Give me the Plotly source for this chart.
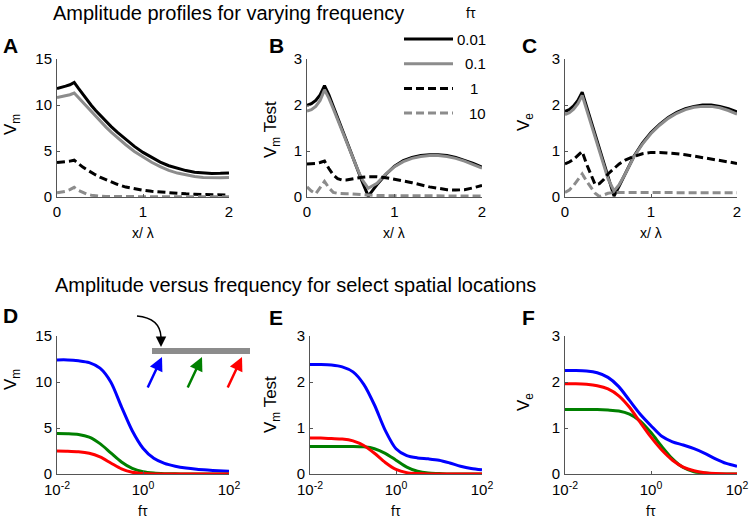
import plotly.graph_objects as go

W, H = 749, 519
FONT = "Liberation Sans, Arial, Helvetica, sans-serif"

# ---- top row: amplitude profiles along the cable (x / lambda) ----
x_lambda = [0, 0.05, 0.1, 0.15, 0.2, 0.25, 0.3, 0.35, 0.4, 0.45, 0.5, 0.57, 0.63, 0.7,
            0.8, 0.9, 1.0, 1.1, 1.2, 1.3, 1.4, 1.5, 1.6, 1.7, 1.8, 1.9, 2.0]

vm_f001 = [11.8, 11.9, 12.05, 12.2, 12.45, 11.8, 11.15, 10.55, 9.95, 9.4, 8.9, 8.2, 7.65, 7.05,
           6.25, 5.5, 4.85, 4.3, 3.8, 3.4, 3.1, 2.87, 2.7, 2.6, 2.56, 2.57, 2.62]
vm_f01 = [10.8, 10.88, 11.0, 11.12, 11.3, 10.8, 10.25, 9.7, 9.2, 8.7, 8.25, 7.6, 7.05, 6.47,
          5.68, 4.95, 4.32, 3.78, 3.3, 2.9, 2.6, 2.38, 2.22, 2.13, 2.08, 2.08, 2.12]
vm_f1 = [3.75, 3.78, 3.82, 3.9, 4.0, 3.6, 3.25, 2.95, 2.65, 2.4, 2.15, 1.85, 1.6, 1.38,
         1.08, 0.88, 0.74, 0.62, 0.53, 0.45, 0.39, 0.34, 0.3, 0.27, 0.24, 0.22, 0.21]
vm_f10 = [0.45, 0.5, 0.62, 0.8, 1.05, 0.72, 0.47, 0.3, 0.2, 0.13, 0.09, 0.06, 0.05, 0.04,
          0.04, 0.03, 0.03, 0.03, 0.03, 0.02, 0.02, 0.02, 0.02, 0.02, 0.02, 0.02, 0.02]

vmt_f001 = [1.99, 2.03, 2.1, 2.22, 2.42, 2.22, 1.97, 1.72, 1.48, 1.23, 0.98, 0.64, 0.34, 0.02,
            0.27, 0.49, 0.67, 0.79, 0.86, 0.9, 0.92, 0.92, 0.9, 0.86, 0.8, 0.73, 0.65]
vmt_f01 = [1.87, 1.9, 1.97, 2.1, 2.33, 2.15, 1.92, 1.68, 1.44, 1.2, 0.96, 0.64, 0.38, 0.19,
           0.3, 0.5, 0.66, 0.77, 0.84, 0.88, 0.9, 0.9, 0.88, 0.84, 0.78, 0.71, 0.63]
vmt_f1 = [0.72, 0.72, 0.73, 0.75, 0.78, 0.62, 0.48, 0.4, 0.37, 0.37, 0.39, 0.41, 0.43, 0.44,
          0.44, 0.42, 0.39, 0.35, 0.31, 0.26, 0.22, 0.19, 0.16, 0.15, 0.16, 0.2, 0.25]
vmt_f10 = [0.22, 0.13, 0.07, 0.2, 0.34, 0.2, 0.1, 0.08, 0.07, 0.07, 0.07, 0.06, 0.05, 0.04,
           0.03, 0.03, 0.03, 0.02, 0.02, 0.02, 0.02, 0.02, 0.02, 0.02, 0.02, 0.02, 0.02]

ve_f001 = [1.86, 1.9, 1.98, 2.1, 2.28, 1.97, 1.66, 1.35, 1.04, 0.73, 0.42, 0.02, 0.24, 0.5,
           0.88, 1.17, 1.4, 1.58, 1.73, 1.84, 1.92, 1.97, 2.0, 2.0, 1.97, 1.92, 1.85]
ve_f01 = [1.79, 1.83, 1.91, 2.03, 2.21, 1.9, 1.6, 1.29, 0.98, 0.68, 0.4, 0.13, 0.27, 0.5,
          0.87, 1.15, 1.38, 1.56, 1.71, 1.82, 1.9, 1.95, 1.97, 1.97, 1.94, 1.88, 1.8]
ve_f1 = [0.72, 0.76, 0.82, 0.9, 0.99, 0.72, 0.5, 0.27, 0.29, 0.38, 0.5, 0.62, 0.72, 0.8,
         0.88, 0.94, 0.97, 0.97, 0.96, 0.94, 0.92, 0.89, 0.86, 0.83, 0.8, 0.77, 0.73]
ve_f10 = [0.1, 0.15, 0.25, 0.38, 0.5, 0.35, 0.2, 0.08, 0.01, 0.04, 0.08, 0.1, 0.1, 0.1,
          0.1, 0.1, 0.1, 0.1, 0.1, 0.09, 0.09, 0.09, 0.09, 0.09, 0.09, 0.09, 0.09]

freq_labels = ["0.01", "0.1", "1", "10"]

# ---- bottom row: amplitude vs f*tau at three locations ----
ftau = [0.01, 0.0178, 0.0316, 0.0562, 0.1, 0.178, 0.316, 0.562, 1,
        1.78, 3.16, 5.62, 10, 17.8, 31.6, 56.2, 100]

vm_near = [12.4, 12.4, 12.3, 12.1, 11.5, 10.0, 7.3, 4.7, 2.8, 1.7, 1.15, 0.85, 0.65, 0.52, 0.43, 0.36, 0.3]
vm_mid = [4.4, 4.38, 4.3, 4.0, 3.3, 2.3, 1.3, 0.6, 0.25, 0.1, 0.04, 0.02, 0.01, 0.01, 0.0, 0.0, 0.0]
vm_far = [2.5, 2.48, 2.42, 2.25, 1.85, 1.2, 0.55, 0.18, 0.05, 0.01, 0, 0, 0, 0, 0, 0, 0]

vmt_near = [2.38, 2.38, 2.37, 2.33, 2.22, 1.95, 1.5, 0.95, 0.55, 0.4, 0.35, 0.33, 0.3, 0.24, 0.17, 0.12, 0.09]
vmt_mid = [0.6, 0.6, 0.6, 0.6, 0.6, 0.59, 0.55, 0.45, 0.3, 0.15, 0.06, 0.02, 0.01, 0, 0, 0, 0]
vmt_far = [0.78, 0.78, 0.77, 0.76, 0.72, 0.62, 0.45, 0.25, 0.1, 0.03, 0.01, 0, 0, 0, 0, 0, 0]

ve_near = [2.25, 2.25, 2.24, 2.2, 2.1, 1.9, 1.6, 1.3, 1.05, 0.82, 0.7, 0.63, 0.55, 0.45, 0.33, 0.23, 0.17]
ve_mid = [1.4, 1.4, 1.4, 1.4, 1.39, 1.37, 1.3, 1.15, 0.9, 0.6, 0.33, 0.14, 0.05, 0.02, 0, 0, 0]
ve_far = [1.96, 1.96, 1.95, 1.92, 1.85, 1.7, 1.45, 1.12, 0.8, 0.52, 0.3, 0.15, 0.07, 0.03, 0.01, 0, 0]

# styles
profile_styles = [("black", "solid"), ("#8c8c8c", "solid"), ("black", "8px,4px"), ("#8c8c8c", "8px,4px")]
site_colors = ["#0000ff", "#008000", "#ff0000"]
AXC = "#555555"


def px(x):
    return x / W


def py(y):
    return 1 - y / H


fig = go.Figure()

top_panels = [
    ([vm_f001, vm_f01, vm_f1, vm_f10], (57, 229), 15, 5),
    ([vmt_f001, vmt_f01, vmt_f1, vmt_f10], (307, 482), 3, 1),
    ([ve_f001, ve_f01, ve_f1, ve_f10], (565, 737), 3, 1),
]
bottom_panels = [
    ([vm_near, vm_mid, vm_far], (57, 229), 15, 5),
    ([vmt_near, vmt_mid, vmt_far], (310, 482), 3, 1),
    ([ve_near, ve_mid, ve_far], (565, 737), 3, 1),
]

axis_common = dict(
    showline=True, linecolor=AXC, linewidth=1, ticks="inside", ticklen=3, tickcolor=AXC,
    showgrid=False, zeroline=False, automargin=False,
    tickfont=dict(size=15, color="black", family=FONT),
)

layout_axes = {}
for i, (series, (x0, x1), ymax, ystep) in enumerate(top_panels):
    n = i + 1
    for s, (col, dash) in zip(series, profile_styles):
        fig.add_trace(go.Scatter(x=x_lambda, y=s, mode="lines", xaxis=f"x{n}", yaxis=f"y{n}",
                                 line=dict(color=col, width=3, dash=dash), showlegend=False))
    layout_axes[f"xaxis{n}"] = dict(axis_common, domain=[px(x0), px(x1)], range=[0, 2],
                                    tickvals=[0, 1, 2], anchor=f"y{n}", ticklabelstandoff=1)
    layout_axes[f"yaxis{n}"] = dict(axis_common, domain=[py(197), py(59)], range=[0, ymax],
                                    tickvals=list(range(0, ymax + 1, ystep)), anchor=f"x{n}",
                                    ticklabelstandoff=1)

for i, (series, (x0, x1), ymax, ystep) in enumerate(bottom_panels):
    n = i + 4
    for s, col in zip(series, site_colors):
        fig.add_trace(go.Scatter(x=ftau, y=s, mode="lines", xaxis=f"x{n}", yaxis=f"y{n}",
                                 line=dict(color=col, width=3, shape="spline", smoothing=0.8),
                                 showlegend=False))
    layout_axes[f"xaxis{n}"] = dict(axis_common, domain=[px(x0), px(x1)], type="log", range=[-2, 2],
                                    tickvals=[0.01, 1, 100],
                                    ticktext=["10<sup>-2</sup>", "10<sup>0</sup>", "10<sup>2</sup>"],
                                    anchor=f"y{n}", ticklabelstandoff=2)
    layout_axes[f"yaxis{n}"] = dict(axis_common, domain=[py(474), py(336)], range=[0, ymax],
                                    tickvals=list(range(0, ymax + 1, ystep)), anchor=f"x{n}",
                                    ticklabelstandoff=1)

annotations = []


def label(text, x, y, size=14, bold=False, angle=0, xanchor="center"):
    if bold:
        text = f"<b>{text}</b>"
    annotations.append(dict(text=text, x=px(x), y=py(y), xref="paper", yref="paper",
                            showarrow=False, textangle=angle, xanchor=xanchor, yanchor="middle",
                            font=dict(size=size, color="black", family=FONT)))


label("Amplitude profiles for varying frequency", 228, 13, size=20)
label("Amplitude versus frequency for select spatial locations", 295, 285, size=20)

for (x, y, t) in [(10, 45, "A"), (276, 45, "B"), (529, 45, "C"),
                  (10, 315, "D"), (276, 317, "E"), (528, 317, "F")]:
    label(t, x, y, size=21, bold=True)

for (x, y, t) in [(12, 125, "V<sub>m</sub>"), (272, 130, "V<sub>m</sub> Test"), (525, 122, "V<sub>e</sub>"),
                  (12, 380, "V<sub>m</sub>"), (272, 405, "V<sub>m</sub> Test"), (525, 402, "V<sub>e</sub>")]:
    label(t, x, y, size=17, angle=-90)

for xc in [143, 394, 651]:
    label("x/ λ", xc, 233, size=14)
for xc in [143, 396, 651]:
    label("fτ", xc, 511, size=14)

# legend for frequencies (inside panel B)
label("fτ", 471, 13, size=14)
shapes = []
for k, (lab, (col, dash)) in enumerate(zip(freq_labels, profile_styles)):
    yy = 39 + 24.7 * k
    shapes.append(dict(type="line", xref="paper", yref="paper", x0=px(404), x1=px(453),
                       y0=py(yy), y1=py(yy), line=dict(color=col, width=3, dash=dash)))
    if lab == "1":
        label(lab, 474, yy, size=15)
    else:
        label(lab, 488, yy, size=15, xanchor="right")

# schematic cable with recording sites (inset in D)
shapes.append(dict(type="rect", xref="paper", yref="paper", x0=px(152), x1=px(250),
                   y0=py(354), y1=py(348), fillcolor="#8c8c8c", line=dict(width=0)))
shapes.append(dict(type="path", xref="paper", yref="paper",
                   path=f"M {px(137)},{py(316)} Q {px(160)},{py(318)} {px(161)},{py(337)}",
                   line=dict(color="black", width=1.5)))
annotations.append(dict(x=px(161), y=py(347), xref="paper", yref="paper", text="", showarrow=True,
                        ax=0, ay=-10, arrowhead=2, arrowsize=1.4, arrowwidth=1.5, arrowcolor="black"))
for col, xh in zip(site_colors, [162, 202, 242]):
    annotations.append(dict(x=px(xh), y=py(357), xref="paper", yref="paper", text="", showarrow=True,
                            ax=-15, ay=32, arrowhead=2, arrowsize=1.1, arrowwidth=2.5, arrowcolor=col))

fig.update_layout(
    width=W, height=H, margin=dict(l=0, r=0, t=0, b=0, autoexpand=False),
    paper_bgcolor="white", plot_bgcolor="white",
    font=dict(family=FONT, color="black"),
    annotations=annotations, shapes=shapes, showlegend=False,
    **layout_axes,
)

# the page's default body margin would push the figure 8px down/right
fig.write_html("out.html", config={"displayModeBar": False},
               post_script="document.body.style.margin='0';")
